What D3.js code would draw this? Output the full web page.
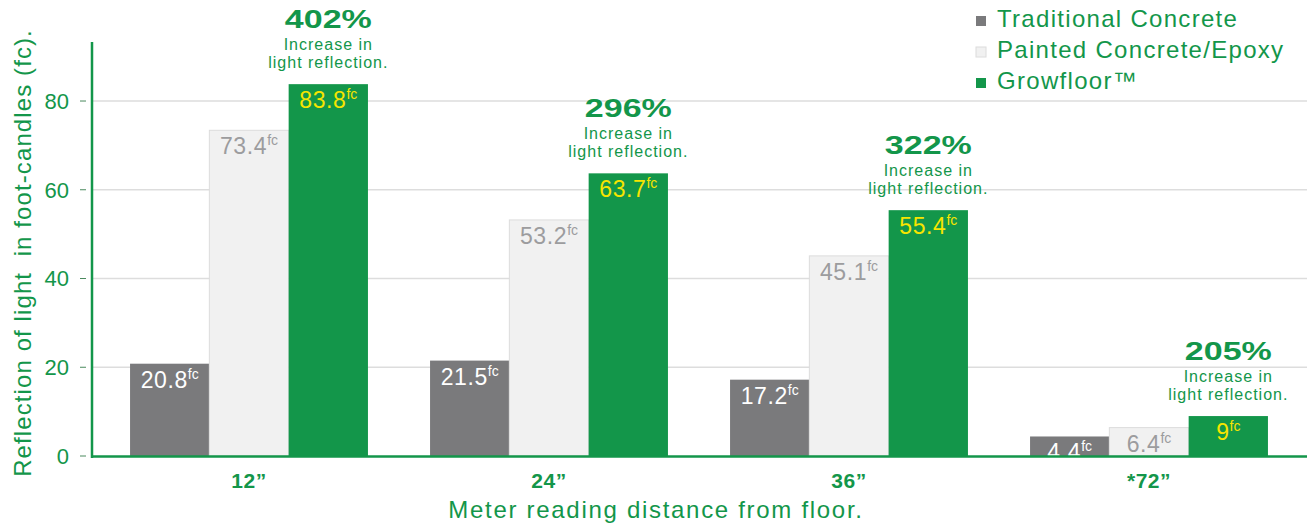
<!DOCTYPE html>
<html>
<head>
<meta charset="utf-8">
<script src="https://cdn.jsdelivr.net/npm/d3@7"></script>
<style>
  body { margin: 0; background: #fff; }
  text { font-family: "Liberation Sans", Arial, sans-serif; }
</style>
</head>
<body>
<div id="chart"></div>
<script>
const width = 1307;
const height = 525;

// data
const distances = ["12\u201D", "24\u201D", "36\u201D", "*72\u201D"];
const seriesNames = ["Traditional Concrete", "Painted Concrete/Epoxy", "Growfloor\u2122"];
const traditional = [20.8, 21.5, 17.2, 4.4];
const painted = [73.4, 53.2, 45.1, 6.4];
const growfloor = [83.8, 63.7, 55.4, 9];
const increases = ["402%", "296%", "322%", "205%"];
const yTicks = [0, 20, 40, 60, 80];

const green = "#13964a";
const barColors = ["#7a7a7c", "#f1f1f1", "#13964a"];
const labelColors = ["#ffffff", "#9c9c9e", "#f7e500"];

const svg = d3.select("#chart")
    .append("svg")
    .attr("width", width)
    .attr("height", height);

// scales
const x = d3.scaleBand()
    .domain(distances)
    .range([99, 1299])
    .paddingInner(0.207)
    .paddingOuter(0.1035);

const xSub = d3.scaleBand()
    .domain(d3.range(3))
    .range([0, x.bandwidth()]);

const y = d3.scaleLinear()
    .domain([0, 93.3])
    .range([456, 42]);

// gridlines
svg.append("g")
    .selectAll("line")
    .data(yTicks.slice(1))
    .join("line")
    .attr("x1", 92)
    .attr("x2", width)
    .attr("y1", d => y(d))
    .attr("y2", d => y(d))
    .style("stroke", "#dddddd")
    .style("stroke-width", 1.5);

// y tick marks + labels
const yAxis = svg.append("g");
yAxis.selectAll("line")
    .data(yTicks)
    .join("line")
    .attr("x1", 80)
    .attr("x2", 86)
    .attr("y1", d => y(d))
    .attr("y2", d => y(d))
    .style("stroke", "#4a8a5e")
    .style("stroke-width", 1);
yAxis.selectAll("text")
    .data(yTicks)
    .join("text")
    .attr("x", 69)
    .attr("y", d => y(d))
    .attr("dy", "0.36em")
    .attr("text-anchor", "end")
    .style("font-size", "22px")
    .style("fill", green)
    .text(d => d);

// bars
const rows = distances.map((d, i) => ({
    key: d,
    values: [traditional[i], painted[i], growfloor[i]]
}));

const groups = svg.append("g")
    .selectAll("g")
    .data(rows)
    .join("g")
    .attr("transform", d => `translate(${x(d.key)},0)`);

groups.selectAll("rect")
    .data(d => d.values.map((v, j) => ({ v, j })))
    .join("rect")
    .attr("x", d => xSub(d.j))
    .attr("width", xSub.bandwidth())
    .attr("y", d => y(d.v))
    .attr("height", d => y(0) - y(d.v))
    .style("fill", d => barColors[d.j])
    .style("stroke", d => d.j === 1 ? "#dcdcdc" : "none")
    .style("stroke-width", 1);

// value labels with superscript fc
const vlab = groups.selectAll("text.val")
    .data(d => d.values.map((v, j) => ({ v, j })))
    .join("text")
    .attr("class", "val")
    .attr("x", d => xSub(d.j) + xSub.bandwidth() / 2)
    .attr("y", d => y(d.v) + 24)
    .attr("text-anchor", "middle")
    .style("fill", d => labelColors[d.j]);
vlab.append("tspan")
    .style("font-size", "23px")
    .style("letter-spacing", "0.6px")
    .text(d => String(d.v));
vlab.append("tspan")
    .attr("dy", -9)
    .style("font-size", "14px")
    .text("fc");

// increase annotations above growfloor bars
const ann = groups.append("g")
    .attr("transform", d => `translate(${xSub(2) + xSub.bandwidth() / 2},${y(d.values[2])})`)
    .style("fill", green)
    .attr("text-anchor", "middle");
ann.append("text")
    .attr("transform", "translate(0,-56) scale(1.36,1)")
    .style("font-size", "25px")
    .style("font-weight", "bold")
    .text((d, i) => increases[i]);
ann.append("text")
    .attr("y", -34)
    .style("font-size", "16px")
    .style("letter-spacing", "1px")
    .text("Increase in");
ann.append("text")
    .attr("y", -16)
    .style("font-size", "16px")
    .style("letter-spacing", "1px")
    .text("light reflection.");

// axis lines
svg.append("line")
    .attr("x1", 92).attr("x2", 92)
    .attr("y1", 42).attr("y2", 458)
    .style("stroke", green)
    .style("stroke-width", 2.5);
svg.append("line")
    .attr("x1", 91).attr("x2", width)
    .attr("y1", 456.5).attr("y2", 456.5)
    .style("stroke", green)
    .style("stroke-width", 2.5);

// x labels
svg.append("g")
    .selectAll("text")
    .data(distances)
    .join("text")
    .attr("x", d => x(d) + x.bandwidth() / 2)
    .attr("y", 488)
    .attr("text-anchor", "middle")
    .style("font-size", "21px")
    .style("font-weight", "bold")
    .style("letter-spacing", "0.5px")
    .style("fill", green)
    .text(d => d);

// axis titles
svg.append("text")
    .attr("x", 656)
    .attr("y", 518)
    .attr("text-anchor", "middle")
    .style("font-size", "24px")
    .style("letter-spacing", "1.7px")
    .style("fill", green)
    .text("Meter reading distance from floor.");

svg.append("text")
    .attr("transform", "translate(31,253) rotate(-90)")
    .attr("text-anchor", "middle")
    .style("font-size", "24px")
    .style("letter-spacing", "1.1px")
    .style("white-space", "pre")
    .style("fill", green)
    .text("Reflection of light  in foot-candles (fc).");

// legend
const legend = svg.append("g")
    .selectAll("g")
    .data(seriesNames)
    .join("g")
    .attr("transform", (d, i) => `translate(976,${27 + i * 31})`);
legend.append("rect")
    .attr("y", -11)
    .attr("width", 10)
    .attr("height", 10)
    .style("fill", (d, i) => barColors[i])
    .style("stroke", (d, i) => i === 1 ? "#dcdcdc" : "none");
legend.append("text")
    .attr("x", 21)
    .style("font-size", "24px")
    .style("letter-spacing", "1.3px")
    .style("fill", green)
    .text(d => d);
</script>
</body>
</html>
